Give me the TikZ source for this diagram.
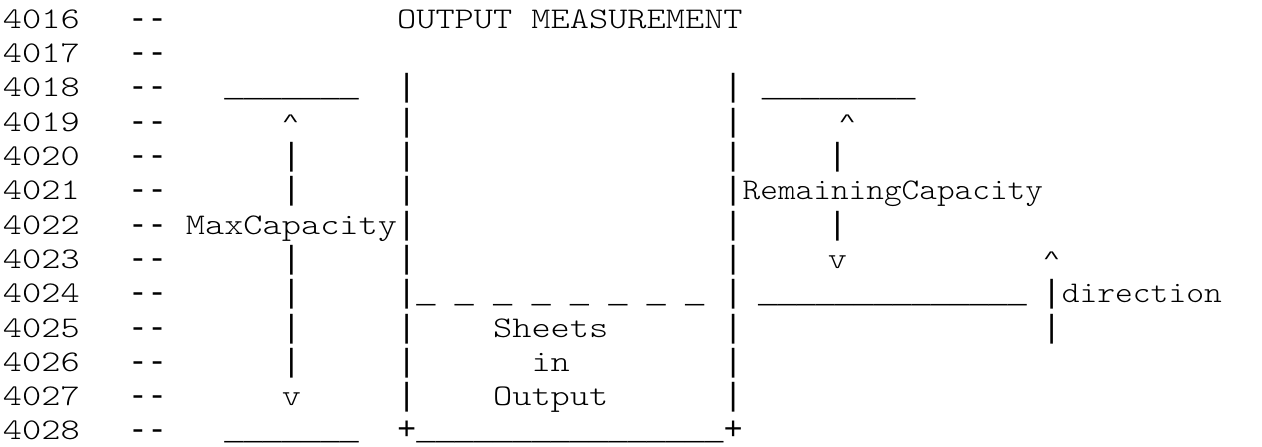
\documentclass[tikz,border=0pt]{standalone}
\usepackage{fontspec}
\newfontfamily\rulefont{Liberation Mono}

% one character cell is 19.2pt wide, one text line is 34.3pt high
\newcommand\cellx[1]{-6.1+19.2*(#1)}
\newcommand\liney[1]{28.3+34.3*(#1)}
% \piece{name}{column}{line}{text}: words, typewriter face widened to the cell
\newcommand\piece[4]{\node[txt] (#1) at ({\cellx{#2}},{\liney{#3}}) {\scalebox{1.219}[1]{#4}};}
% \squeezed{name}{column}{line}{xscale}{text}: condensed words
\newcommand\squeezed[5]{\node[txt] (#1) at ({\cellx{#2}},{\liney{#3}}) {\scalebox{#4}[1]{#5}};}
% \sym{name}{column}{line}{text}: bars, dashes, plus signs and underscore runs
\newcommand\sym[4]{\node[txt, font=\rulefont\fontsize{32}{34.3}\selectfont] (#1) at ({\cellx{#2}},{\liney{#3}}) {#4};}
% small arrow-head caret
\newcommand\caret{\raisebox{5pt}{\scalebox{0.9}[0.55]{\string^}}}
\newcommand\us{\_}

\begin{document}
\begin{tikzpicture}[x=1pt,y=-1pt,
  txt/.style={inner sep=0pt, outer sep=0pt, anchor=base west,
    font=\ttfamily\fontsize{30}{34.3}\fontseries{l}\selectfont}]
\useasboundingbox (0,0) rectangle (1262,447);

% line numbers and comment markers
\foreach \n [count=\i from 0] in {4016,4017,4018,4019,4020,4021,4022,4023,4024,4025,4026,4027,4028}{
  \piece{num\n}{0.47}{\i}{\n}
  \sym{dash\n}{7}{\i}{-{}-}
}

% title
\piece{title}{21}{0}{OUTPUT MEASUREMENT}

% line 4018
\sym{maxtop}{12}{2}{\us\us\us\us\us\us\us}
\sym{boxlA}{21}{2}{|}
\sym{boxrA}{38}{2}{|}
\sym{remtop}{40}{2}{\us\us\us\us\us\us\us\us}

% line 4019
\sym{maxup}{15}{3}{\caret}
\sym{boxlB}{21}{3}{|}
\sym{boxrB}{38}{3}{|}
\sym{remup}{44}{3}{\caret}

% line 4020
\sym{maxbarA}{15}{4}{|}
\sym{boxlC}{21}{4}{|}
\sym{boxrC}{38}{4}{|}
\sym{rembarA}{43.43}{4}{|}

% line 4021
\sym{maxbarB}{15}{5}{|}
\sym{boxlD}{21}{5}{|}
\sym{boxrD}{38}{5}{|}
\squeezed{remlabel}{39}{5}{1.1216}{RemainingCapacity}

% line 4022
\piece{maxlabel}{10}{6}{MaxCapacity}
\sym{boxlE}{21}{6}{|}
\sym{boxrE}{38}{6}{|}
\sym{rembarB}{43.43}{6}{|}

% line 4023
\sym{maxbarC}{15}{7}{|}
\sym{boxlF}{21}{7}{|}
\sym{boxrF}{38}{7}{|}
\piece{remdown}{43.43}{7}{v}
\sym{dirup}{54.63}{7}{\caret}

% line 4024
\sym{maxbarD}{15}{8}{|}
\sym{boxlG}{21}{8}{|}
\sym{level}{22}{8}{\us{} \us{} \us{} \us{} \us{} \us{} \us{} \us}
\sym{boxrG}{38}{8}{|}
\sym{rembottom}{39.8}{8}{\us\us\us\us\us\us\us\us\us\us\us\us\us\us}
\sym{dirbarA}{54.6}{8}{|}
\squeezed{dirlabel}{55.62}{8}{1.129}{direction}

% line 4025
\sym{maxbarE}{15}{9}{|}
\sym{boxlH}{21}{9}{|}
\piece{sheets}{26}{9}{Sheets}
\sym{boxrH}{38}{9}{|}
\sym{dirbarB}{54.6}{9}{|}

% line 4026
\sym{maxbarF}{15}{10}{|}
\sym{boxlI}{21}{10}{|}
\piece{in}{28}{10}{in}
\sym{boxrI}{38}{10}{|}

% line 4027
\piece{maxdown}{15}{11}{v}
\sym{boxlJ}{21}{11}{|}
\piece{output}{26}{11}{Output}
\sym{boxrJ}{38}{11}{|}

% line 4028
\sym{maxbottom}{12}{12}{\us\us\us\us\us\us\us}
\sym{plusl}{21}{12}{+}
\sym{boxbottom}{22}{12}{\us\us\us\us\us\us\us\us\us\us\us\us\us\us\us\us}
\sym{plusr}{38}{12}{+}
\end{tikzpicture}
\end{document}
